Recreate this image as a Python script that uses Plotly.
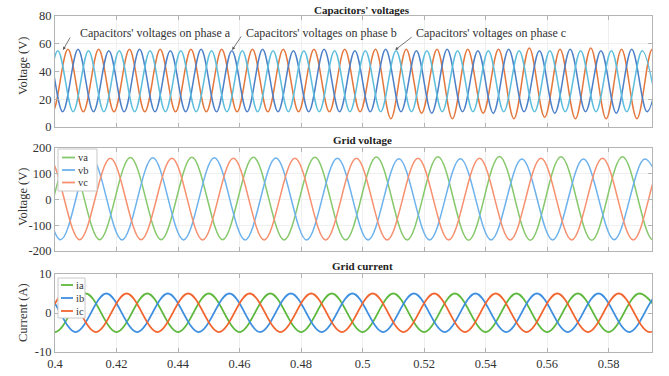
import plotly.graph_objects as go

# ---------------- data ----------------
# Capacitors' voltages: extremum times (s) and values (V)
cap_a_t = [0.3942, 0.3992, 0.4042, 0.4092, 0.4142, 0.4192, 0.4242, 0.4292, 0.4342, 0.4392,
           0.4442, 0.4492, 0.4542, 0.4592, 0.4642, 0.4692, 0.4742, 0.4792, 0.4842, 0.4892,
           0.4942, 0.4992, 0.5042, 0.5092, 0.5142, 0.5192, 0.5242, 0.5292, 0.5342, 0.5392,
           0.5442, 0.5492, 0.5542, 0.5592, 0.5642, 0.5692, 0.5742, 0.5792, 0.5842, 0.5892,
           0.5942, 0.5992]
cap_a_v = [56, 11, 56, 11, 56, 11, 56, 11, 56, 11,
           56, 11, 56, 11, 56, 11, 56, 11, 56, 11,
           56, 11, 56, 6, 56, 10, 56, 6, 56, 10,
           56, 6, 57, 7, 56, 6, 57, 6, 56, 6,
           56, 10]
cap_b_t = [0.3925, 0.3975, 0.4025, 0.4075, 0.4125, 0.4175, 0.4225, 0.4275, 0.4325, 0.4375,
           0.4425, 0.4475, 0.4525, 0.4575, 0.4625, 0.4675, 0.4725, 0.4775, 0.4825, 0.4875,
           0.4925, 0.4975, 0.5025, 0.5075, 0.5125, 0.5175, 0.5225, 0.5275, 0.5325, 0.5375,
           0.5425, 0.5475, 0.5525, 0.5575, 0.5625, 0.5675, 0.5725, 0.5775, 0.5825, 0.5875,
           0.5925, 0.5975]
cap_b_v = [11, 55, 11, 56, 11, 55, 11, 56, 11, 55,
           11, 56, 11, 55, 11, 56, 11, 55, 11, 56,
           11, 55, 11, 56, 11, 55, 10, 56, 11, 55,
           10, 56, 11, 55, 10, 56, 11, 55, 10, 56,
           11, 55]
cap_c_t = [0.3909, 0.3959, 0.4009, 0.4059, 0.4109, 0.4159, 0.4209, 0.4259, 0.4309, 0.4359,
           0.4409, 0.4459, 0.4509, 0.4559, 0.4609, 0.4659, 0.4709, 0.4759, 0.4809, 0.4859,
           0.4909, 0.4959, 0.5009, 0.5059, 0.5109, 0.5159, 0.5209, 0.5259, 0.5309, 0.5359,
           0.5409, 0.5459, 0.5509, 0.5559, 0.5609, 0.5659, 0.5709, 0.5759, 0.5809, 0.5859,
           0.5909, 0.5959]
cap_c_v = [55, 11, 55, 11, 55, 11, 55, 11, 55, 11,
           55, 11, 55, 11, 55, 11, 55, 11, 55, 11,
           55, 11, 55, 11, 55, 11, 55, 11, 55, 11,
           55, 11, 55, 11, 55, 11, 55, 11, 55, 11,
           55, 11]

# Grid voltage extrema
va_t = [0.3845, 0.3945, 0.4045, 0.4145, 0.4245, 0.4345, 0.4445, 0.4545, 0.4645, 0.4745,
        0.4845, 0.4945, 0.5045, 0.5145, 0.5245, 0.5345, 0.5445, 0.5545, 0.5645, 0.5745,
        0.5845, 0.5945, 0.6045]
va_v = [163, -156, 163, -156, 163, -156, 164, -156, 164, -157, 164, -157, 165, -157,
        166, -158, 167, -158, 166, -158, 166, -157, 164]
vb_t = [0.3818, 0.3918, 0.4018, 0.4118, 0.4218, 0.4318, 0.4418, 0.4518, 0.4618, 0.4718,
        0.4818, 0.4918, 0.5018, 0.5118, 0.5218, 0.5318, 0.5418, 0.5518, 0.5618, 0.5718,
        0.5818, 0.5918, 0.6018]
vb_v = [-156, 162, -156, 162, -157, 162, -157, 162, -157, 161, -157, 160, -157, 158,
        -157, 158, -157, 157, -157, 157, -156, 157, -156]
vc_t = [0.3880, 0.3980, 0.4080, 0.4180, 0.4280, 0.4380, 0.4480, 0.4580, 0.4680, 0.4780,
        0.4880, 0.4980, 0.5080, 0.5180, 0.5280, 0.5380, 0.5480, 0.5580, 0.5680, 0.5780,
        0.5880, 0.5980, 0.6080]
vc_v = [-156, 160, -156, 160, -156, 160, -157, 160, -157, 160, -157, 160, -157, 160,
        -157, 160, -157, 160, -157, 160, -157, 160, -157]

# Grid current extrema
ia_t = [0.3900, 0.4000, 0.4100, 0.4200, 0.4300, 0.4400, 0.4500, 0.4600, 0.4700, 0.4800,
        0.4900, 0.5000, 0.5100, 0.5200, 0.5300, 0.5400, 0.5500, 0.5600, 0.5700, 0.5800,
        0.5900, 0.6000]
ia_v = [5.0, -4.9, 5.0, -4.9, 5.0, -4.9, 5.0, -4.9, 5.0, -4.9, 5.0, -4.9, 5.0, -4.9,
        5.0, -4.9, 5.0, -4.9, 5.0, -4.9, 5.0, -4.9]
ib_t = [0.3867, 0.3967, 0.4067, 0.4167, 0.4267, 0.4367, 0.4467, 0.4567, 0.4667, 0.4767,
        0.4867, 0.4967, 0.5067, 0.5167, 0.5267, 0.5367, 0.5467, 0.5567, 0.5667, 0.5767,
        0.5867, 0.5967, 0.6067]
ib_v = [-4.9, 5.0, -4.9, 5.0, -4.9, 5.0, -4.9, 5.0, -4.9, 5.0, -4.9, 5.0, -4.9, 5.0,
        -4.9, 5.0, -4.9, 5.0, -4.9, 5.0, -4.9, 5.0, -4.9]
ic_t = [0.3833, 0.3933, 0.4033, 0.4133, 0.4233, 0.4333, 0.4433, 0.4533, 0.4633, 0.4733,
        0.4833, 0.4933, 0.5033, 0.5133, 0.5233, 0.5333, 0.5433, 0.5533, 0.5633, 0.5733,
        0.5833, 0.5933, 0.6033]
ic_v = [5.0, -4.9, 5.0, -4.9, 5.0, -4.9, 5.0, -4.9, 5.0, -4.9, 5.0, -4.9, 5.0, -4.9,
        5.0, -4.9, 5.0, -4.9, 5.0, -4.9, 5.0, -4.9, 5.0]

x_ticks = [0.4, 0.42, 0.44, 0.46, 0.48, 0.5, 0.52, 0.54, 0.56, 0.58]
x_tick_labels = ["0.4", "0.42", "0.44", "0.46", "0.48", "0.5", "0.52", "0.54", "0.56", "0.58"]
y1_ticks = [0, 20, 40, 60, 80]
y1_labels = ["0", "20", "40", "60", "80"]
y2_ticks = [-200, -100, 0, 100, 200]
y2_labels = ["-200", "-100", "0", "100", "200"]
y3_ticks = [-10, 0, 10]
y3_labels = ["-10", "0", "10"]

volt_names = ["va", "vb", "vc"]
curr_names = ["ia", "ib", "ic"]
phase_labels = ["Capacitors' voltages on phase a", "Capacitors' voltages on phase b",
                "Capacitors' voltages on phase c"]
panel_titles = ["Capacitors' voltages", "Grid voltage", "Grid current"]

# ---------------- styling ----------------
W, H = 669, 376
L, R = 55, 17
FONT = "Liberation Serif, Times New Roman, serif"
cap_colors = ["#E4773C", "#4C80C8", "#5CBEDC"]
volt_colors = ["#86C86C", "#6DB2EC", "#F6906F"]
curr_colors = ["#5DB83D", "#3E8FE0", "#F2652F"]


def px_x(p):
    return (p - L) / (W - L - R)


def px_y(p):
    return 1 - p / H


fig = go.Figure()
for t, v, c in zip([cap_a_t, cap_b_t, cap_c_t], [cap_a_v, cap_b_v, cap_c_v], cap_colors):
    fig.add_trace(go.Scatter(x=t, y=v, mode="lines", line=dict(color=c, width=1.5, shape="spline", smoothing=1),
                             xaxis="x", yaxis="y", showlegend=False))
for t, v, c, n in zip([va_t, vb_t, vc_t], [va_v, vb_v, vc_v], volt_colors, volt_names):
    fig.add_trace(go.Scatter(x=t, y=v, mode="lines", name=n,
                             line=dict(color=c, width=1.5, shape="spline", smoothing=1),
                             xaxis="x2", yaxis="y2", showlegend=False))
for t, v, c, n in zip([ia_t, ib_t, ic_t], [ia_v, ib_v, ic_v], curr_colors, curr_names):
    fig.add_trace(go.Scatter(x=t, y=v, mode="lines", name=n,
                             line=dict(color=c, width=1.8, shape="spline", smoothing=1),
                             xaxis="x3", yaxis="y3", showlegend=False))

axis_common = dict(showline=True, mirror="ticks", linecolor="#b4b4b4", linewidth=1,
                   ticks="inside", ticklen=4, tickcolor="#b4b4b4", showgrid=True,
                   gridcolor="#efefef", zeroline=False, automargin=False,
                   tickfont=dict(family=FONT, size=12.5, color="#333333"))
xr = [0.4, 0.5941]
doms = [[px_y(127), px_y(16)], [px_y(251), px_y(148)], [px_y(352), px_y(274)]]

layout = dict(
    width=W, height=H, margin=dict(l=L, r=R, t=0, b=0, autoexpand=False),
    paper_bgcolor="white", plot_bgcolor="white", showlegend=False,
    font=dict(family=FONT, color="#222222"),
    xaxis=dict(axis_common, range=xr, tickvals=x_ticks, ticktext=x_tick_labels, showticklabels=False, anchor="y"),
    xaxis2=dict(axis_common, range=xr, tickvals=x_ticks, ticktext=x_tick_labels, showticklabels=False, anchor="y2"),
    xaxis3=dict(axis_common, range=xr, tickvals=x_ticks, ticktext=x_tick_labels, anchor="y3"),
    yaxis=dict(axis_common, range=[0, 80], tickvals=y1_ticks, ticktext=y1_labels, domain=doms[0], anchor="x"),
    yaxis2=dict(axis_common, range=[-200, 200], tickvals=y2_ticks, ticktext=y2_labels, domain=doms[1], anchor="x2"),
    yaxis3=dict(axis_common, range=[-10, 10], tickvals=y3_ticks, ticktext=y3_labels, domain=doms[2], anchor="x3"),
)
fig.update_layout(**layout)

ann = []
# panel titles
for txt, yp in zip(panel_titles, [10, 140, 266]):
    ann.append(dict(text="<b>" + txt + "</b>", xref="paper", yref="paper", x=px_x(362), y=px_y(yp),
                    showarrow=False, xanchor="center", yanchor="middle",
                    font=dict(family=FONT, size=11, color="#222222")))
# y-axis titles
for txt, yp in zip(["Voltage (V)", "Voltage (V)", "Current (A)"], [66, 197, 313]):
    ann.append(dict(text=txt, xref="paper", yref="paper", x=px_x(23), y=px_y(yp), textangle=-90,
                    showarrow=False, xanchor="center", yanchor="middle",
                    font=dict(family=FONT, size=12.5, color="#333333")))
# phase labels
for txt, xp in zip(phase_labels, [155, 321, 491]):
    ann.append(dict(text=txt, xref="paper", yref="paper", x=px_x(xp), y=px_y(33),
                    showarrow=False, xanchor="center", yanchor="middle",
                    font=dict(family=FONT, size=12, color="#333333")))
# arrows
for tip, off in zip([(0.4026, 55.5), (0.4576, 55.5), (0.5106, 55.5)], [(8, -14), (10, -15), (18, -14)]):
    ann.append(dict(text="", x=tip[0], y=tip[1], xref="x", yref="y", showarrow=True,
                    ax=off[0], ay=off[1], arrowhead=2, arrowsize=0.8, arrowwidth=0.8,
                    arrowcolor="#555555"))

shapes = []
# manual legends (compact, like the original)
legends = [
    (volt_names, volt_colors, (58, 149, 97, 191), [157.5, 170, 182.5], (62, 75), 77),
    (curr_names, curr_colors, (58, 278, 85, 318), [285, 298, 311], (61, 73), 75),
]
for names, cols, box, ys, (lx0, lx1), tx in legends:
    shapes.append(dict(type="rect", xref="paper", yref="paper", x0=px_x(box[0]), x1=px_x(box[2]),
                       y0=px_y(box[3]), y1=px_y(box[1]), line=dict(color="#c8c8c8", width=1),
                       fillcolor="white", layer="above"))
    for n, c, yy in zip(names, cols, ys):
        shapes.append(dict(type="line", xref="paper", yref="paper", x0=px_x(lx0), x1=px_x(lx1),
                           y0=px_y(yy), y1=px_y(yy), line=dict(color=c, width=1.8), layer="above"))
        ann.append(dict(text=n, xref="paper", yref="paper", x=px_x(tx), y=px_y(yy), showarrow=False,
                        xanchor="left", yanchor="middle", borderpad=0,
                        font=dict(family=FONT, size=10.5, color="#333333")))

fig.update_layout(annotations=ann, shapes=shapes)
fig.write_html("out.html", config={"displayModeBar": False},
               post_script="document.body.style.margin='0px';")
